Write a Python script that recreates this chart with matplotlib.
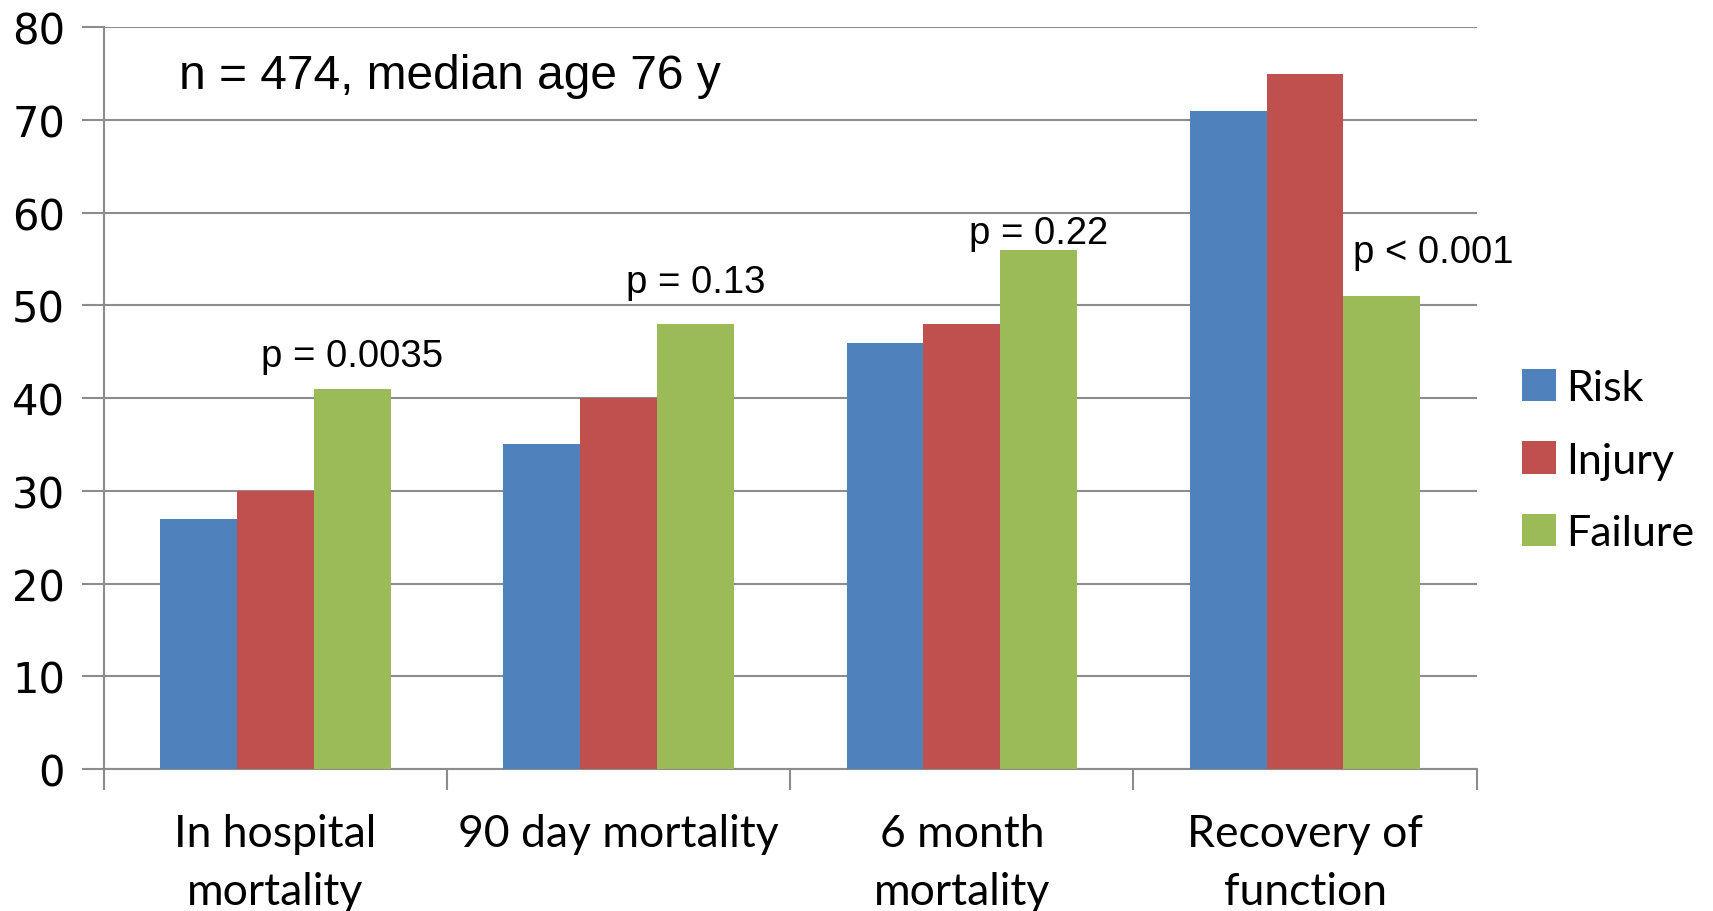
import matplotlib
matplotlib.use("Agg")
import matplotlib.pyplot as plt
import numpy as np

categories = ["In hospital\nmortality", "90 day mortality", "6 month\nmortality", "Recovery of\nfunction"]
series = ["Risk", "Injury", "Failure"]
risk = [27, 35, 46, 71]
injury = [30, 40, 48, 75]
failure = [41, 48, 56, 51]
p_labels = ["p = 0.0035", "p = 0.13", "p = 0.22", "p < 0.001"]
p_heights = [44.5, 52.5, 57.8, 55.8]

colors = ["#4F81BD", "#C0504D", "#9BBB59"]
grid_col = "#8C8C8C"

fig = plt.figure(figsize=(17.13, 9.12), dpi=100)
ax = fig.add_axes([0.0607, 0.1557, 0.8013, 0.8133])

x = np.arange(len(categories))
w = 0.224
for i, (vals, name) in enumerate(zip([risk, injury, failure], series)):
    ax.bar(x + (i - 1) * w, vals, width=w, color=colors[i], label=name, zorder=3)

ax.set_xlim(-0.5, len(categories) - 0.5)
ax.set_ylim(0, 80)
ax.set_yticks(range(0, 81, 10))
ax.yaxis.grid(True, color=grid_col, lw=1.5, zorder=0)
ax.set_axisbelow(True)

for s in ["top", "right"]:
    ax.spines[s].set_visible(False)
for s in ["left", "bottom"]:
    ax.spines[s].set_color(grid_col)
    ax.spines[s].set_linewidth(1.5)

ax.tick_params(axis="y", length=16, width=1.5, color=grid_col, pad=12, labelsize=30)
for t in ax.get_yticklabels():
    t.set_fontfamily("DejaVu Sans")

ax.set_xticks(x)
ax.set_xticklabels(categories, fontsize=32, family="Lato", linespacing=1.5)
ax.tick_params(axis="x", which="major", length=0, pad=32)
ax.set_xticks(np.arange(len(categories) + 1) - 0.5, minor=True)
ax.tick_params(axis="x", which="minor", length=15, width=1.5, color=grid_col)

for xi, lab, h in zip(x, p_labels, p_heights):
    ax.text(xi + w + (0.15 if xi == 3 else 0), h, lab, ha="center", va="center",
            fontsize=27.5, family="Liberation Sans")

ax.text(-0.28, 74.8, "n = 474, median age 76 y", ha="left", va="center",
        fontsize=34.5, family="Liberation Sans")

fig.legend(loc="center left", bbox_to_anchor=(0.866, 0.494), frameon=False,
           prop={"family": "Lato", "size": 31}, handlelength=0.78, handleheight=0.78,
           handletextpad=0.25, labelspacing=0.8)

fig.savefig("out.png", dpi=100)
